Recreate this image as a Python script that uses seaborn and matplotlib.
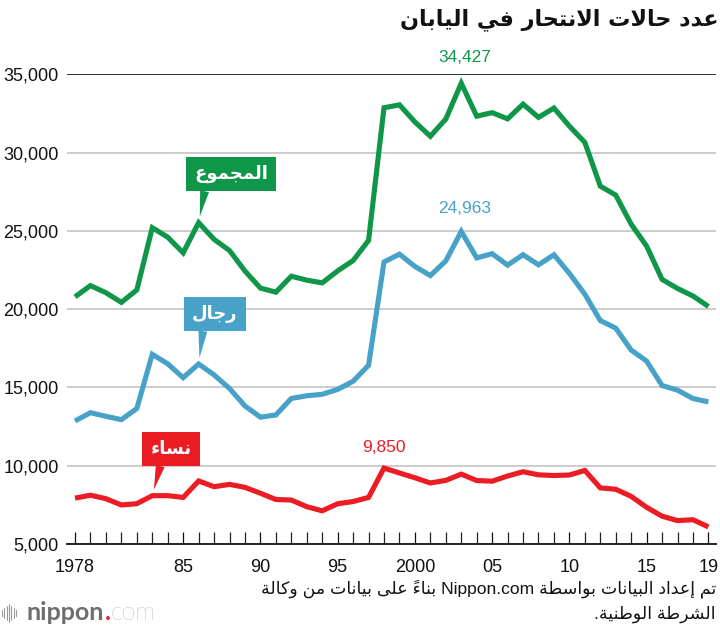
import re

import matplotlib
matplotlib.use('Agg')
import matplotlib.pyplot as plt
from matplotlib.lines import Line2D
from matplotlib.ticker import FixedLocator, MultipleLocator, StrMethodFormatter
import pandas as pd
import seaborn as sns

# ---- data (National Police Agency figures) ----
years = list(range(1978, 2020))
total = [20788, 21503, 21048, 20434, 21228, 25202, 24596, 23599, 25524, 24460,
         23742, 22436, 21346, 21084, 22104, 21851, 21679, 22445, 23104, 24391,
         32863, 33048, 31957, 31042, 32143, 34427, 32325, 32552, 32155, 33093,
         32249, 32845, 31690, 30651, 27858, 27283, 25427, 24025, 21897, 21321,
         20840, 20169]
men = [12859, 13386, 13155, 12942, 13654, 17116, 16508, 15624, 16497, 15802,
       14934, 13818, 13102, 13242, 14296, 14468, 14560, 14874, 15393, 16416,
       23013, 23512, 22727, 22144, 23080, 24963, 23272, 23540, 22813, 23478,
       22831, 23472, 22283, 20955, 19273, 18787, 17386, 16681, 15121, 14826,
       14290, 14078]
women = [7929, 8117, 7893, 7492, 7574, 8086, 8088, 7975, 9027, 8658,
         8808, 8618, 8244, 7842, 7808, 7383, 7119, 7571, 7711, 7975,
         9850, 9536, 9230, 8898, 9063, 9464, 9053, 9012, 9342, 9615,
         9418, 9373, 9407, 9696, 8585, 8496, 8041, 7344, 6776, 6495,
         6550, 6091]

series_names = ['total', 'men', 'women']
series_labels = ['المجموع', 'رجال', 'نساء']
callout_years = [1986, 1986, 1983]
peak_years = [2003, 2003, 1998]

title = 'عدد حالات الانتحار في اليابان'
source_lines = ['تم إعداد البيانات بواسطة Nippon.com بناءً على بيانات من وكالة',
                'الشرطة الوطنية.']

y_ticks = [5000, 10000, 15000, 20000, 25000, 30000, 35000]
x_ticks = [1978, 1985, 1990, 1995, 2000, 2005, 2010, 2015, 2019]
x_labels = ['1978', '85', '90', '95', '2000', '05', '10', '15', '19']

GREEN = '#109648'
BLUE = '#48a2c8'
RED = '#ec1c24'
colors = {'total': GREEN, 'men': BLUE, 'women': RED}


# ---- minimal Arabic shaping (matplotlib has no complex text layout) ----
FOUR = {'ئ': 0xFE89, 'ب': 0xFE8F, 'ت': 0xFE95, 'ث': 0xFE99, 'ج': 0xFE9D,
        'ح': 0xFEA1, 'خ': 0xFEA5, 'س': 0xFEB1, 'ش': 0xFEB5, 'ص': 0xFEB9,
        'ض': 0xFEBD, 'ط': 0xFEC1, 'ظ': 0xFEC5, 'ع': 0xFEC9, 'غ': 0xFECD,
        'ف': 0xFED1, 'ق': 0xFED5, 'ك': 0xFED9, 'ل': 0xFEDD, 'م': 0xFEE1,
        'ن': 0xFEE5, 'ه': 0xFEE9, 'ي': 0xFEF1}
TWO = {'آ': 0xFE81, 'أ': 0xFE83, 'ؤ': 0xFE85, 'إ': 0xFE87, 'ا': 0xFE8D,
       'ة': 0xFE93, 'د': 0xFEA9, 'ذ': 0xFEAB, 'ر': 0xFEAD, 'ز': 0xFEAF,
       'و': 0xFEED, 'ى': 0xFEEF}
ONE = {'ء': 0xFE80}
LAM_ALEF = {'ا': 0xFEFB, 'أ': 0xFEF7, 'إ': 0xFEF9, 'آ': 0xFEF5}
MARKS = '\u064B-\u065F\u0670'


def is_mark(c):
    return '\u064B' <= c <= '\u065F' or c == '\u0670'


def shape(text):
    items = []
    i = 0
    while i < len(text):
        c = text[i]
        if c == 'ل' and i + 1 < len(text) and text[i + 1] in LAM_ALEF:
            items.append(('LA', text[i + 1]))
            i += 2
        else:
            items.append(('C', c))
            i += 1

    def joins_next(it):
        return it[0] == 'C' and it[1] in FOUR

    def joining(it):
        return it[0] == 'LA' or it[1] in FOUR or it[1] in TWO

    out = []
    for idx, it in enumerate(items):
        k, c = it
        if k == 'C' and is_mark(c):
            out.append(c)
            continue
        j = idx - 1
        while j >= 0 and items[j][0] == 'C' and is_mark(items[j][1]):
            j -= 1
        prev = items[j] if j >= 0 else None
        j = idx + 1
        while j < len(items) and items[j][0] == 'C' and is_mark(items[j][1]):
            j += 1
        nxt = items[j] if j < len(items) else None
        cp = prev is not None and joins_next(prev) and joining(it)
        cn = nxt is not None and joins_next(it) and joining(nxt)
        if k == 'LA':
            out.append(chr(LAM_ALEF[c] + (1 if cp else 0)))
        elif c in FOUR:
            out.append(chr(FOUR[c] + (3 if cp and cn else 1 if cp else 2 if cn else 0)))
        elif c in TWO:
            out.append(chr(TWO[c] + (1 if cp else 0)))
        elif c in ONE:
            out.append(chr(ONE[c]))
        else:
            out.append(c)
    return ''.join(out)


def ar(text):
    ltr = r'[A-Za-z0-9]+(?:[.,][A-Za-z0-9]+)*'
    runs = []
    for part in re.split('(' + ltr + ')', shape(text)):
        if not part:
            continue
        if re.fullmatch(ltr, part):
            runs.append(part)
        else:
            clusters = re.findall('.[' + MARKS + ']*', part)
            # mark drawn first so it sits over its base letter
            clusters = [cl[1:] + cl[0] for cl in clusters]
            runs.append(''.join(reversed(clusters)))
    return ''.join(reversed(runs))


# ---- figure ----
sns.set_theme(style='white')
plt.rcParams['font.family'] = ['Liberation Sans', 'DejaVu Sans']

fig = plt.figure(figsize=(7.2, 6.34), dpi=100)
ax = fig.add_axes([67 / 720, 90 / 634, 649 / 720, 469.7 / 634])

df = pd.DataFrame({'year': years, 'total': total, 'men': men, 'women': women})
long_df = df.melt(id_vars='year', var_name='series', value_name='count')
sns.lineplot(data=long_df, x='year', y='count', hue='series', hue_order=series_names,
             palette=colors, linewidth=3.7, legend=False, ax=ax)
for line in ax.lines:
    line.set_solid_joinstyle('miter')
    line.set_solid_capstyle('butt')
    line.set_zorder(3)

ax.set_xlim(1977.48, 2019.49)
ax.set_ylim(5000, 35000)
ax.set_xlabel('')
ax.set_ylabel('')

ax.yaxis.set_major_locator(FixedLocator(y_ticks))
ax.yaxis.set_major_formatter(StrMethodFormatter('{x:,.0f}'))
ax.yaxis.grid(True, color='#c8c8c8', linewidth=1.3)
ax.xaxis.grid(False)
ax.yaxis.get_gridlines()[-1].set_color('#222222')
ax.tick_params(axis='y', length=0, pad=6, labelsize=13, colors='#111111')

ax.xaxis.set_major_locator(FixedLocator(x_ticks))
ax.set_xticklabels(x_labels)
ax.xaxis.set_minor_locator(MultipleLocator(1))
ax.tick_params(axis='x', which='both', direction='in', length=8.5, width=0.9,
               color='#222222', bottom=True)
ax.tick_params(axis='x', which='major', pad=11, labelsize=13, colors='#111111')

for side in ['left', 'right', 'top']:
    ax.spines[side].set_visible(False)
ax.spines['bottom'].set_color('#222222')
ax.spines['bottom'].set_linewidth(1.4)

values = {'total': total, 'men': men, 'women': women}

# peak values
peak_offsets = [(2.5, 13), (2.5, 11), (0, 9.5)]
for name, yr, off in zip(series_names, peak_years, peak_offsets):
    v = values[name][years.index(yr)]
    ax.annotate(f'{v:,}', xy=(yr, v), xytext=off, textcoords='offset points',
                ha='center', va='bottom', fontsize=12.5, color=colors[name])

# callout boxes
callout_offsets = [(23.5, 35), (11.7, 36), (13.5, 33.7)]
callout_rel = [0.16, 0.26, 0.29]
for name, lab, yr, off, rel in zip(series_names, series_labels, callout_years,
                                   callout_offsets, callout_rel):
    v = values[name][years.index(yr)]
    ax.annotate(ar(lab), xy=(yr, v), xytext=off, textcoords='offset points',
                ha='center', va='center', fontsize=13, fontweight='bold',
                color='white', family=['DejaVu Sans'],
                bbox=dict(boxstyle='square,pad=0.45', fc=colors[name], ec='none'),
                arrowprops=dict(arrowstyle='wedge,tail_width=0.5', fc=colors[name],
                                ec='none', relpos=(rel, 0), shrinkA=0, shrinkB=4.5),
                zorder=5)

# title and source
fig.text(718 / 720, 1 - 20 / 634, ar(title), ha='right', va='center',
         fontsize=16, fontweight='bold', color='#111111', family=['DejaVu Sans'])
fig.text(716 / 720, 1 - 589 / 634, ar(source_lines[0]), ha='right', va='center',
         fontsize=12.5, color='#111111')
fig.text(716 / 720, 1 - 614 / 634, ar(source_lines[1]), ha='right', va='center',
         fontsize=12.5, color='#111111')

# nippon.com logo
bar_heights = [6, 10, 14, 18, 14, 10, 6]
for i, h in enumerate(bar_heights):
    x = (2 + i * 2.3) / 720
    fig.add_artist(Line2D([x, x], [1 - (613 + h / 2) / 634, 1 - (613 - h / 2) / 634],
                          color='#9a9a9a', linewidth=0.8))
logo = fig.text(27 / 720, 1 - 620 / 634, 'nippon', ha='left', va='baseline',
                fontsize=18, fontweight='bold', color='#6e6e6e', family=['Lato', 'DejaVu Sans'])
fig.canvas.draw()
bb = logo.get_window_extent()
dot = fig.text(bb.x1 / 720, 1 - 620 / 634, '.', ha='left', va='baseline',
               fontsize=18, fontweight='bold', color=RED, family=['Lato', 'DejaVu Sans'])
fig.canvas.draw()
bb = dot.get_window_extent()
fig.text(bb.x1 / 720, 1 - 620 / 634, 'com', ha='left', va='baseline',
         fontsize=18, fontweight='light', color='#8a8a8a', family=['Lato', 'DejaVu Sans'])

fig.savefig('out.png', dpi=100)
